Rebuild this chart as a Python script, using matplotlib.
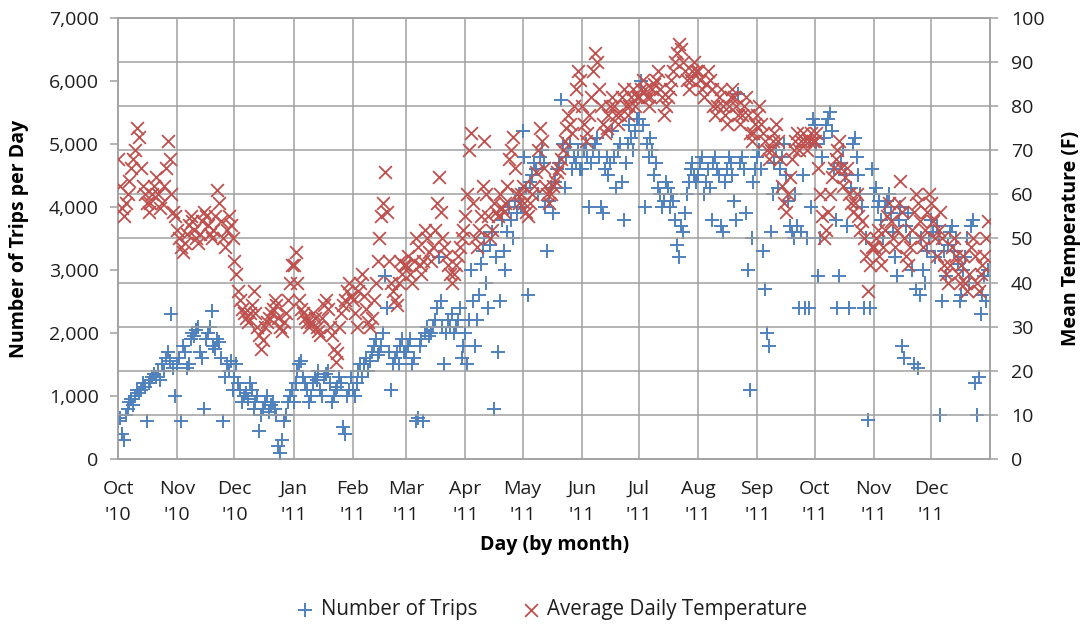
import numpy as np
import matplotlib
matplotlib.use("Agg")
import matplotlib.pyplot as plt
from matplotlib.ticker import FuncFormatter, MultipleLocator

# ---------------- data ----------------
month_labels = ["Oct\n'10", "Nov\n'10", "Dec\n'10", "Jan\n'11", "Feb\n'11", "Mar\n'11",
                "Apr\n'11", "May\n'11", "Jun\n'11", "Jul\n'11", "Aug\n'11", "Sep\n'11",
                "Oct\n'11", "Nov\n'11", "Dec\n'11"]
days_in_month = [31, 30, 31, 31, 28, 31, 30, 31, 30, 31, 31, 30, 31, 30, 31]

trips_2010_10 = [600, 650, 400, 300, 700, 800, 900, 950, 850, 1000, 1100, 1050, 1100, 1200, 1150, 600,
                 1200, 1250, 1300, 1350, 1300, 1400, 1250, 1500, 1400, 1600, 1700, 1550, 2300, 1450, 1000]
trips_2010_11 = [1500, 1600, 600, 1800, 1700, 1450, 1500, 1900, 2000, 1950, 2050, 2100, 1700, 1600, 800,
                 1900, 2000, 2100, 2350, 1800, 1750, 1900, 1850, 1600, 600, 1300, 1500, 1400, 1550, 1100]
trips_2010_12 = [1300, 1500, 1200, 1100, 900, 1000, 1050, 950, 1200, 1100, 800, 900, 1000, 450, 700, 800,
                 900, 1000, 750, 850, 900, 800, 700, 200, 100, 300, 600, 700, 900, 1000, 1100]
trips_2011_01 = [900, 1200, 1400, 1500, 1550, 1300, 1200, 1100, 900, 1000, 1200, 1300, 1250, 1400, 1100,
                 1000, 1300, 1350, 1400, 1200, 900, 1000, 1100, 1150, 1300, 1200, 500, 400, 1000, 1100, 1300]
trips_2011_02 = [1100, 1000, 1200, 1400, 1500, 1300, 1500, 1600, 1400, 1550, 1700, 1800, 1900, 1650,
                 1700, 1800, 2000, 2900, 2400, 1700, 1100, 1500, 1600, 1700, 1500, 1800, 1900, 1700]
trips_2011_03 = [1700, 1800, 1900, 1500, 1600, 600, 650, 1800, 1900, 600, 2000, 2100, 1950, 2000, 2100,
                 2200, 2400, 3200, 2500, 2100, 1500, 2000, 2200, 2100, 2300, 2000, 2100, 2200, 2400, 1600, 1800]
trips_2011_04 = [2000, 1500, 2200, 3000, 2500, 1800, 2200, 2600, 3100, 3300, 3500, 2800, 2400, 3400, 3600,
                 800, 3200, 1700, 2500, 3800, 3300, 3000, 3600, 4000, 3800, 3500, 4100, 3900, 4200, 4000]
trips_2011_05 = [5200, 4800, 4300, 2600, 4400, 4500, 4700, 4600, 4200, 4800, 4900, 4700, 4000, 3300, 4100,
                 4300, 3900, 4400, 4600, 4700, 5700, 5000, 4300, 4800, 4900, 5000, 4600, 4800, 4700, 4900, 4600]
trips_2011_06 = [4600, 4900, 5000, 4800, 4000, 4700, 4900, 5000, 5100, 4800, 4000, 3900, 4600, 4800, 4500,
                 4700, 5200, 4800, 4300, 4900, 5000, 4400, 3800, 4700, 5000, 5300, 5100, 4900, 5200, 5400]
trips_2011_07 = [5400, 6000, 5300, 4000, 5000, 4800, 5100, 4900, 4500, 4700, 4300, 4200, 4000, 4100, 4400,
                 4300, 4000, 4200, 4100, 3800, 3400, 3200, 3700, 3600, 3900, 4200, 4400, 4600, 4700, 4500, 4400]
trips_2011_08 = [4500, 4700, 4800, 4200, 4400, 4600, 4300, 3800, 4700, 4800, 4600, 4500, 3700, 3600, 4400,
                 4600, 4800, 4700, 4500, 4100, 3800, 5800, 4700, 4800, 4600, 3900, 3000, 1100, 3500, 4400, 4600]
trips_2011_09 = [4800, 4900, 4600, 3300, 2700, 2000, 1800, 3600, 4200, 4700, 4900, 4300, 4600, 4800, 5000,
                 4500, 4100, 3700, 3600, 3500, 4200, 3700, 2400, 3600, 4500, 2400, 3500, 2400, 4000, 5400]
trips_2011_10 = [5300, 5000, 2900, 3500, 4800, 5100, 5300, 5400, 5500, 5200, 4600, 3800, 2400, 2900, 4700,
                 4900, 4500, 3700, 2400, 4300, 5000, 5100, 4800, 4500, 4200, 4000, 2400, 3500, 620, 2400, 4600]
trips_2011_11 = [4200, 4300, 4000, 4100, 3800, 3500, 4000, 4100, 4200, 3900, 3600, 3200, 2900, 3800, 4000,
                 1800, 1600, 3700, 3900, 3500, 3000, 1500, 2700, 1450, 2600, 3500, 3000, 2800, 3300, 3500]
trips_2011_12 = [3800, 3600, 3200, 3700, 3500, 700, 2500, 3300, 2900, 3400, 3600, 3700, 3300, 3500, 3100,
                 2500, 2600, 3000, 3200, 3500, 2800, 3700, 3800, 1200, 700, 1300, 2300, 2600, 2900, 2500, 3000]

temp_2010_10 = [68, 62, 57, 55, 58, 60, 63, 66, 68, 70, 75, 73, 66, 62, 60, 58, 56, 58, 60, 62, 64, 60,
                57, 58, 62, 66, 72, 68, 60, 56, 55]
temp_2010_11 = [52, 50, 48, 47, 49, 51, 53, 55, 54, 52, 50, 49, 51, 54, 56, 55, 53, 51, 50, 52, 55, 61,
                58, 54, 50, 48, 52, 55, 53, 50]
temp_2010_12 = [45, 42, 38, 36, 34, 33, 32, 31, 33, 35, 38, 33, 30, 28, 25, 27, 30, 31, 32, 33, 34, 36,
                35, 32, 30, 29, 31, 33, 36, 40, 44]
temp_2011_01 = [44, 47, 40, 36, 34, 33, 32, 31, 30, 31, 33, 32, 30, 29, 28, 32, 35, 36, 34, 30, 28, 25,
                22, 24, 30, 33, 35, 36, 38, 40, 37]
temp_2011_02 = [36, 33, 30, 38, 40, 42, 37, 34, 31, 30, 32, 36, 40, 45, 50, 55, 58, 65, 56, 45, 40, 38,
                36, 35, 40, 45, 42, 44]
temp_2011_03 = [44, 46, 42, 40, 45, 50, 48, 44, 42, 45, 52, 50, 47, 45, 48, 52, 58, 64, 56, 50, 48, 46,
                44, 42, 40, 42, 44, 46, 48, 50, 52]
temp_2011_04 = [55, 60, 70, 74, 58, 50, 48, 52, 55, 62, 72, 60, 55, 50, 52, 58, 56, 55, 60, 57, 56, 58,
                62, 68, 70, 73, 66, 60, 58, 60]
temp_2011_05 = [62, 58, 56, 55, 58, 60, 62, 65, 70, 75, 72, 66, 62, 60, 58, 60, 62, 63, 65, 66, 68, 70,
                72, 75, 78, 76, 74, 80, 84, 88, 86]
temp_2011_06 = [80, 76, 72, 74, 78, 82, 88, 92, 90, 84, 80, 76, 74, 75, 78, 80, 82, 80, 78, 76, 78, 82,
                84, 80, 78, 80, 82, 84, 80, 82]
temp_2011_07 = [82, 84, 86, 84, 82, 80, 82, 84, 85, 86, 88, 84, 82, 78, 80, 82, 84, 86, 88, 90, 92, 94,
                93, 90, 88, 86, 84, 86, 88, 90, 88]
temp_2011_08 = [88, 86, 84, 82, 85, 88, 86, 84, 80, 78, 80, 82, 84, 80, 78, 76, 80, 82, 84, 82, 80, 78,
                76, 78, 80, 82, 78, 74, 72, 74, 76]
temp_2011_09 = [78, 80, 76, 74, 72, 70, 68, 70, 72, 74, 76, 72, 68, 62, 58, 56, 60, 64, 68, 70, 72, 74,
                70, 72, 74, 72, 70, 72, 74, 72]
temp_2011_10 = [72, 74, 66, 60, 55, 50, 52, 56, 60, 64, 66, 68, 70, 72, 66, 62, 64, 66, 60, 58, 56, 58,
                60, 55, 52, 54, 50, 46, 38, 44, 48]
temp_2011_11 = [48, 50, 52, 46, 44, 48, 52, 55, 58, 54, 50, 48, 52, 58, 63, 56, 50, 46, 44, 48, 52, 56,
                60, 58, 54, 50, 48, 52, 56, 60]
temp_2011_12 = [58, 54, 50, 46, 52, 56, 50, 44, 42, 40, 44, 48, 50, 46, 42, 40, 44, 46, 40, 38, 42, 48,
                50, 46, 40, 38, 42, 44, 46, 50, 54]

trips_by_month = [trips_2010_10, trips_2010_11, trips_2010_12, trips_2011_01, trips_2011_02,
                  trips_2011_03, trips_2011_04, trips_2011_05, trips_2011_06, trips_2011_07,
                  trips_2011_08, trips_2011_09, trips_2011_10, trips_2011_11, trips_2011_12]
temp_by_month = [temp_2010_10, temp_2010_11, temp_2010_12, temp_2011_01, temp_2011_02,
                 temp_2011_03, temp_2011_04, temp_2011_05, temp_2011_06, temp_2011_07,
                 temp_2011_08, temp_2011_09, temp_2011_10, temp_2011_11, temp_2011_12]

trips = np.concatenate([np.asarray(m, float) for m in trips_by_month])
temps = np.concatenate([np.asarray(m, float) for m in temp_by_month])
month_starts = np.concatenate([[0], np.cumsum(days_in_month)])
day_index = np.arange(len(trips))

# ---------------- style ----------------
plt.rcParams['font.family'] = ['Open Sans', 'DejaVu Sans']
BLUE = '#4F81BD'
RED = '#C0504D'
GRID = '#A0A0A0'
TXT = '#1e1e1e'
FS = 14

fig = plt.figure(figsize=(10.86, 6.26), dpi=100)
ax = fig.add_axes([0.1087, 0.2668, 0.803, 0.7045])
ax2 = ax.twinx()

ax.set_zorder(2)
ax2.set_zorder(3)
ax.patch.set_visible(False)

# gridlines (from right axis and month boundaries)
for v in np.arange(10, 101, 10):
    ax2.axhline(v, color=GRID, lw=1.1, zorder=0)
for m in month_starts[1:-1]:
    ax.axvline(m, color=GRID, lw=1.1, zorder=0)

h1 = ax.scatter(day_index, trips, marker='+', s=95, color=BLUE, linewidths=1.4, zorder=3,
                label='Number of Trips')
h2 = ax2.scatter(day_index, temps, marker='x', s=85, color=RED, linewidths=1.3, zorder=3,
                 label='Average Daily Temperature')

ax.set_xlim(0, month_starts[-1])
ax.set_ylim(0, 7000)
ax2.set_ylim(0, 100)

ax.yaxis.set_major_locator(MultipleLocator(1000))
ax.yaxis.set_major_formatter(FuncFormatter(lambda v, p: f"{int(v):,}"))
ax2.yaxis.set_major_locator(MultipleLocator(10))

ax.set_xticks(month_starts[:-1])
ax.set_xticklabels(month_labels)

for a in (ax, ax2):
    for s in a.spines.values():
        s.set_color(GRID)
        s.set_linewidth(1.1)

ax.tick_params(axis='x', length=0, pad=15, labelsize=FS, colors=TXT)
ax.tick_params(axis='y', length=6, width=1.1, color=GRID, labelsize=FS, labelcolor=TXT, pad=8)
ax2.tick_params(axis='y', length=6, width=1.1, color=GRID, labelsize=FS, labelcolor=TXT, pad=9)
for lab in ax.get_xticklabels():
    lab.set_linespacing(1.6)

ax.set_ylabel('Number of Trips per Day', fontsize=FS, fontweight='bold', color='black', labelpad=14)
ax2.set_ylabel('Mean Temperature (F)', fontsize=FS, fontweight='bold', color='black', labelpad=12)
ax.set_xlabel('Day (by month)', fontsize=FS, fontweight='bold', color='black', labelpad=8)

fig.legend(handles=[h1, h2], loc='center', bbox_to_anchor=(0.505, 0.026), ncol=2, frameon=False,
           fontsize=14.8, handletextpad=0.0, columnspacing=1.9, labelcolor=TXT, handlelength=1.5)

fig.savefig('out.png', dpi=100)
